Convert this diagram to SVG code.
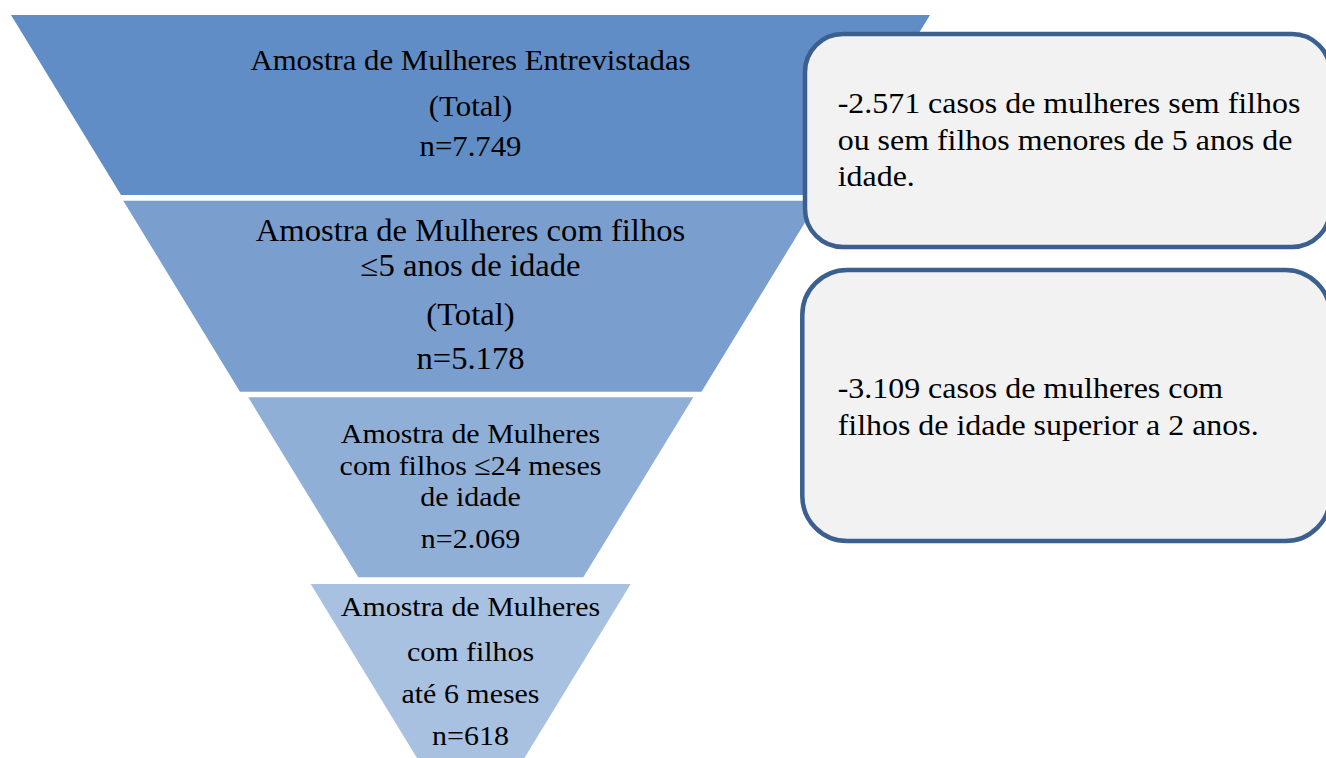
<svg xmlns="http://www.w3.org/2000/svg" width="1326" height="758" viewBox="0 0 1326 758">
<style>
  .ft { font-family: "Liberation Serif", "Times New Roman", serif; fill: #000; text-anchor: middle; }
  .bt { font-family: "Liberation Serif", "Times New Roman", serif; fill: #000; font-size: 28.5px; }
  .box { fill: #F2F2F2; stroke: #3B5F8E; stroke-width: 4.5; }
</style>
<rect width="1326" height="758" fill="#FFFFFF"/>
<g id="band1">
  <polygon points="11,15 930,15 820,195 121,195" fill="#608DC5"/>
  <g transform="translate(470.5 0) scale(1.08 1)" class="ft" font-size="28.5">
    <text x="0" y="70.5">Amostra de Mulheres Entrevistadas</text>
    <text x="0" y="116">(Total)</text>
    <text x="0" y="156.5">n=7.749</text>
  </g>
</g>
<g id="band2">
  <polygon points="123.3,200.7 818.3,200.7 701.5,391.7 240,391.7" fill="#7A9ECD"/>
  <g transform="translate(470.5 0) scale(1.07 1)" class="ft" font-size="30.5">
    <text x="0" y="241">Amostra de Mulheres com filhos</text>
    <text x="0" y="276">≤5 anos de idade</text>
    <text x="0" y="325">(Total)</text>
    <text x="0" y="369">n=5.178</text>
  </g>
</g>
<g id="band3">
  <polygon points="248.3,397.3 693.3,397.3 583.3,577.3 358.3,577.3" fill="#8FAFD6"/>
  <g transform="translate(470.5 0) scale(1.07 1)" class="ft" font-size="28">
    <text x="0" y="443.5">Amostra de Mulheres</text>
    <text x="0" y="475">com filhos ≤24 meses</text>
    <text x="0" y="506.5">de idade</text>
    <text x="0" y="548">n=2.069</text>
  </g>
</g>
<g id="band4">
  <polygon points="310.7,584 630.7,584 523.2,760 418.2,760" fill="#A8C1E0"/>
  <g transform="translate(470.5 0) scale(1.07 1)" class="ft" font-size="28">
    <text x="0" y="616.5">Amostra de Mulheres</text>
    <text x="0" y="661.5">com filhos</text>
    <text x="0" y="703.5">até 6 meses</text>
    <text x="0" y="745">n=618</text>
  </g>
</g>
<g id="box1">
  <rect class="box" x="805" y="34" width="525" height="213" rx="38" ry="38"/>
  <g transform="translate(837.7 0) scale(1.12 1)" class="bt">
    <text x="0" y="113.5">-2.571 casos de mulheres sem filhos</text>
    <text x="0" y="150">ou sem filhos menores de 5 anos de</text>
    <text x="0" y="186.5">idade.</text>
  </g>
</g>
<g id="box2">
  <rect class="box" x="802.3" y="270" width="528" height="271" rx="45" ry="45"/>
  <g transform="translate(837.7 0) scale(1.12 1)" class="bt">
    <text x="0" y="398.5">-3.109 casos de mulheres com</text>
    <text x="0" y="435">filhos de idade superior a 2 anos.</text>
  </g>
</g>
<g id="connectors"></g>
</svg>
